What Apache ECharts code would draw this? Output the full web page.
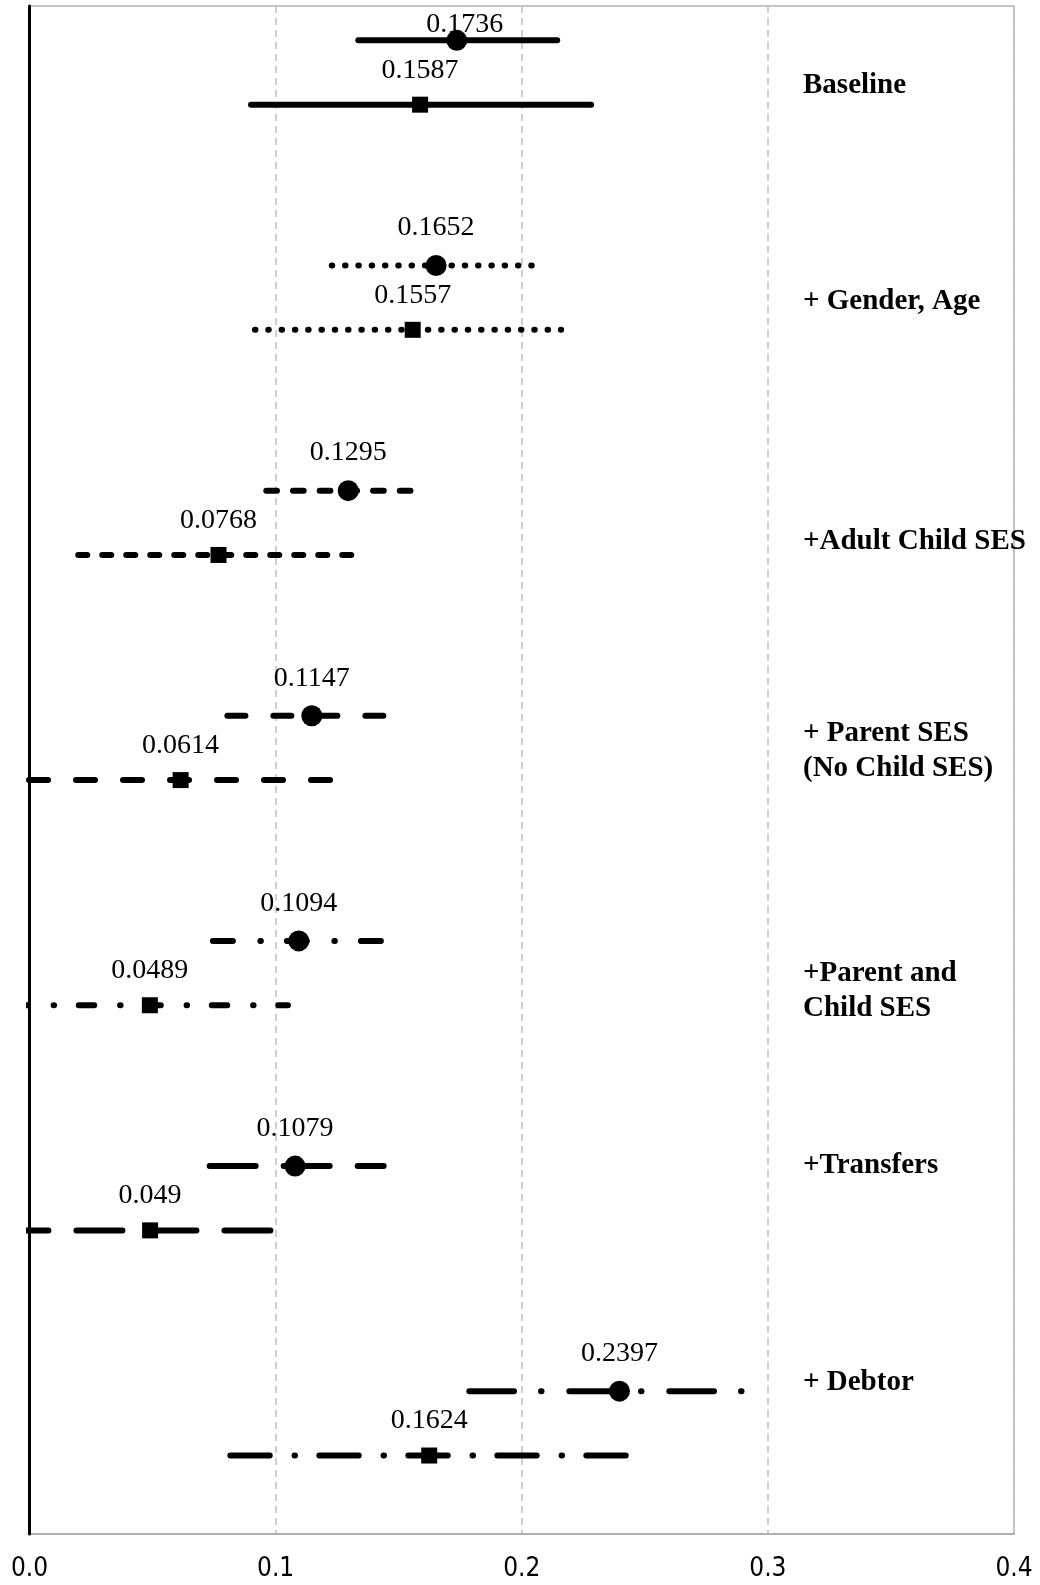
<!DOCTYPE html>
<html>
<head>
  <meta charset="UTF-8">
  <title>Estimates by model</title>
  <script src="https://cdn.jsdelivr.net/npm/echarts@6/dist/echarts.min.js"></script>
  <style>
    html, body { margin: 0; padding: 0; background: #fff; }
    #main { width: 1040px; height: 1585px; }
  </style>
</head>
<body>
<div id="main"></div>
<script type="text/javascript">
  // model groups, top to bottom
  var groups = ['Baseline', '+ Gender, Age', '+Adult Child SES', '+ Parent SES\n(No Child SES)',
    '+Parent and\nChild SES', '+Transfers', '+ Debtor'];

  // circle rows: point estimate and interval ends
  var circleEst = [0.1736, 0.1652, 0.1295, 0.1147, 0.1094, 0.1079, 0.2397];
  var circleLo = [0.1336, 0.1228, 0.0962, 0.0804, 0.0745, 0.0732, 0.1787];
  var circleHi = [0.2144, 0.2043, 0.1578, 0.1475, 0.1448, 0.1439, 0.2904];

  // square rows
  var squareEst = [0.1587, 0.1557, 0.0768, 0.0614, 0.0489, 0.049, 0.1624];
  var squareLo = [0.0900, 0.0916, 0.0198, -0.0002, -0.0070, -0.0110, 0.0816];
  var squareHi = [0.2282, 0.2160, 0.1333, 0.1230, 0.1050, 0.1090, 0.2432];

  var xTicks = [0, 0.1, 0.2, 0.3, 0.4];

  // line dash per group (circle row, square row)
  var dashCircle = [null, [0.5, 12.8], [10.7, 16], [18, 28], [20, 27.5, 0.5, 26], [46, 28], [44.7, 27, 0.5, 27.8]];
  var dashSquare = [null, [0.5, 12.8], [9, 15], [19, 28], [15.5, 25.8, 0.5, 24.7], [46, 28], [39.4, 24.8, 0.5, 24.3]];

  var GROUP_STEP = 3.5;
  function rowY(g, isSquare) { return g * GROUP_STEP + (isSquare ? 1 : 0); }

  var series = [];
  groups.forEach(function(name, g) {
    [false, true].forEach(function(sq) {
      var dash = sq ? dashSquare[g] : dashCircle[g];
      series.push({
        type: 'line',
        name: name + (sq ? ' (sq)' : ' (ci)'),
        showSymbol: false,
        symbol: 'none',
        silent: true,
        clip: true,
        z: 2,
        lineStyle: {
          color: '#000',
          width: 6,
          type: dash || 'solid',
          cap: 'round'
        },
        data: [
          [sq ? squareLo[g] : circleLo[g], rowY(g, sq)],
          [sq ? squareHi[g] : circleHi[g], rowY(g, sq)]
        ]
      });
    });
  });

  var labelFont = {
    fontFamily: "'Liberation Serif', 'DejaVu Serif', serif",
    fontSize: 28,
    lineHeight: 28,
    color: '#000'
  };

  series.push({
    type: 'scatter',
    name: 'circle',
    symbol: 'circle',
    symbolSize: 21,
    z: 4,
    itemStyle: { color: '#000', opacity: 1 },
    label: Object.assign({
      show: true,
      position: 'top',
      distance: 13,
      formatter: function(p) { return String(p.value[0]); }
    }, labelFont),
    data: circleEst.map(function(v, g) {
      var d = { value: [v, rowY(g, false)] };
      if (g === 0) d.label = { offset: [8, 22] };
      return d;
    })
  });

  series.push({
    type: 'scatter',
    name: 'square',
    symbol: 'rect',
    symbolSize: 16,
    z: 4,
    itemStyle: { color: '#000', opacity: 1 },
    label: Object.assign({
      show: true,
      position: 'top',
      distance: 12.5,
      formatter: function(p) { return String(p.value[0]); }
    }, labelFont),
    data: squareEst.map(function(v, g) {
      return { value: [v, rowY(g, true)] };
    })
  });

  // group names on the right
  var groupY = [86, 302, 542, 751.5, 991.5, 1166, 1383];
  var graphics = groups.map(function(name, g) {
    return {
      type: 'text',
      left: 803,
      top: groupY[g] - (name.indexOf('\n') >= 0 ? 35 : 17.5),
      z: 10,
      style: {
        text: name,
        font: "bold 29px 'Liberation Serif', 'DejaVu Serif', serif",
        lineHeight: 35,
        fill: '#000'
      }
    };
  });

  var option = {
    animation: false,
    backgroundColor: '#fff',
    grid: {
      left: 29.5,
      right: 26,
      top: 6,
      bottom: 51,
      show: true,
      borderColor: '#b4b4b4',
      borderWidth: 1.5
    },
    xAxis: {
      type: 'value',
      min: xTicks[0],
      max: xTicks[xTicks.length - 1],
      interval: 0.1,
      axisLine: { show: true, onZero: false, lineStyle: { color: '#a8a8a8', width: 1.5 } },
      axisTick: { show: false },
      axisLabel: {
        color: '#000',
        fontFamily: "'DejaVu Sans Condensed', 'Liberation Sans Narrow', 'Liberation Sans', sans-serif",
        fontSize: 26,
        margin: 22,
        formatter: function(v) { return v.toFixed(1); }
      },
      splitLine: {
        show: true,
        lineStyle: { color: '#c0c0c0', width: 1.5, type: [7, 5] }
      }
    },
    yAxis: {
      type: 'value',
      inverse: true,
      min: -0.534,
      max: 23.22,
      z: 5,
      axisLine: { show: true, onZero: false, lineStyle: { color: '#000', width: 3 } },
      axisTick: { show: false },
      axisLabel: { show: false },
      splitLine: { show: false }
    },
    graphic: graphics,
    series: series
  };

  var myChart = echarts.init(document.getElementById('main'));
  myChart.setOption(option);
</script>
</body>
</html>
